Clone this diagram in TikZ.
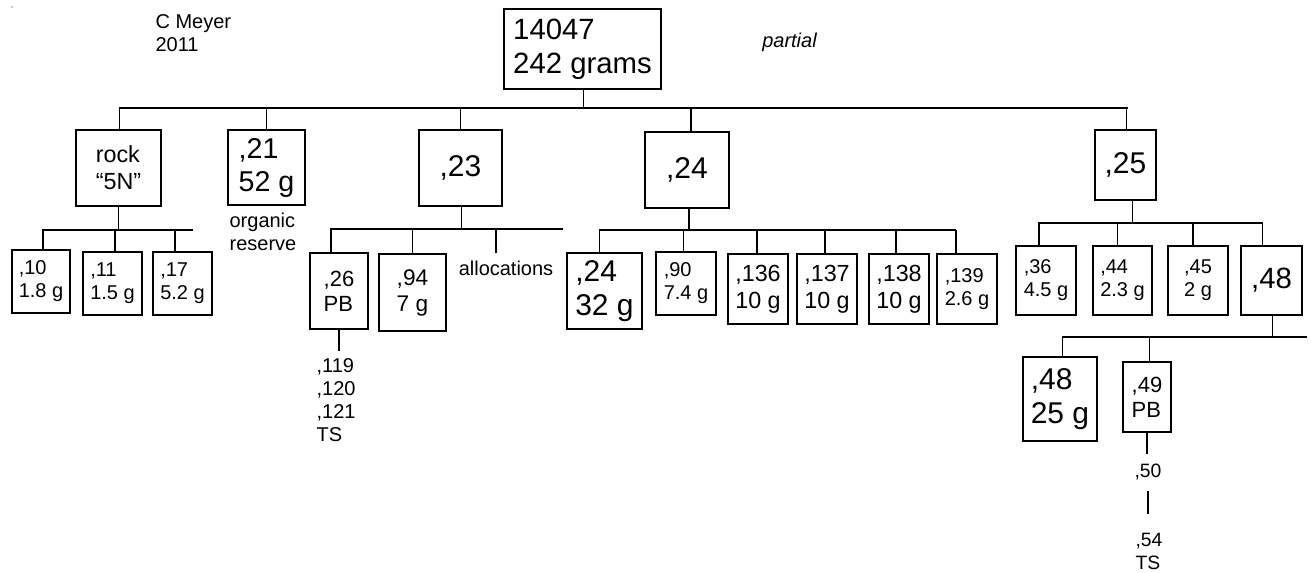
\documentclass[tikz,border=0pt]{standalone}
\usepackage{fontspec}
\setmainfont{Liberation Sans}
\usetikzlibrary{positioning, calc}
\newcommand{\fsz}[1]{\fontsize{#1}{\fpeval{1.15*#1}}\selectfont}

\begin{document}
\begin{tikzpicture}[x=0.75pt, y=-0.75pt, line width=0.9pt,
    box/.style 2 args={draw, align=left, inner sep=0pt,
      minimum width=#1*0.75pt, minimum height=#2*0.75pt},
    lbl/.style={align=left, inner sep=0pt}]
  \useasboundingbox (0,0) rectangle (1311,573);
  \fill (12,7) circle (0.7);

  \node[lbl, anchor=west, font=\fsz{15}] (auth) at (155,33.5) {C Meyer\\2011};
  \node[lbl, font=\fsz{15}\itshape] (part) at (789.5,42) {partial};
  \node[box={157}{80}, font=\fsz{22}] (top) at (582.5,49) {14047\\242 grams};

  % first split
  \node[box={85}{76}, font=\fsz{17.5}] (rock) at (118.5,168) {rock\\“5N”};
  \node[box={77}{75}, font=\fsz{21.5}] (r21) at (266.5,167.5) {,21\\52 g};
  \node[box={83}{76}, font=\fsz{22.5}] (r23) at (460.5,168) {,23};
  \node[box={84}{76}, font=\fsz{22.5}] (r24) at (687,170) {,24};
  \node[box={61}{70}, font=\fsz{22.5}] (r25) at (1125.5,165) {,25};

  % rock and ,21
  \node[box={58}{63}, font=\fsz{15}] (r10) at (41,281.5) {,10\\1.8 g};
  \node[box={59}{63}, font=\fsz{15}] (r11) at (112.5,283.5) {,11\\1.5 g};
  \node[box={59}{63}, font=\fsz{15}] (r17) at (182.5,283.5) {,17\\5.2 g};
  \node[lbl, anchor=west, font=\fsz{15}] (org) at (229,232) {organic\\reserve};

  % ,23
  \node[box={58}{76}, font=\fsz{16.5}] (r26) at (339,291) {,26\\PB};
  \node[box={67}{77}, font=\fsz{17}] (r94) at (412.5,292.5) {,94\\7 g};
  \node[lbl, font=\fsz{15}] (alloc) at (506,268) {allocations};
  \node[lbl, anchor=west, font=\fsz{15}] (ts26) at (316,400) {,119\\,120\\,121\\TS};

  % ,24
  \node[box={75}{76}, font=\fsz{22.5}] (r24b) at (604.5,291) {,24\\32 g};
  \node[box={60}{63}, font=\fsz{15}] (r90) at (686,283.5) {,90\\7.4 g};
  \node[box={60}{70}, font=\fsz{17.5}] (r136) at (758,289) {,136\\10 g};
  \node[box={60}{70}, font=\fsz{17.5}] (r137) at (827,289) {,137\\10 g};
  \node[box={60}{70}, font=\fsz{17.5}] (r138) at (899,289) {,138\\10 g};
  \node[box={60}{70}, font=\fsz{15}] (r139) at (967,289) {,139\\2.6 g};

  % ,25
  \node[box={60}{69}, font=\fsz{15}] (r36) at (1046,280.5) {,36\\4.5 g};
  \node[box={59}{69}, font=\fsz{15}] (r44) at (1122.5,280.5) {,44\\2.3 g};
  \node[box={60}{69}, font=\fsz{15}] (r45) at (1198,280.5) {,45\\2 g};
  \node[box={61}{69}, font=\fsz{22}] (r48) at (1271.5,280.5) {,48};

  % ,48
  \node[box={74}{84}, font=\fsz{22.5}] (r48b) at (1060,399) {,48\\25 g};
  \node[box={48}{70}, font=\fsz{16.5}] (r49) at (1147,397) {,49\\PB};
  \node[lbl, font=\fsz{14.5}] (n50) at (1148,472) {,50};
  \node[lbl, anchor=west, font=\fsz{14.5}] (n54) at (1135,551.5) {,54\\TS};

  % tree lines
  \coordinate (e0) at (1127,108);
  \draw ([xshift=1pt]top.south) |- (e0);
  \foreach \n/\dx in {rock/1, r21/0, r23/0, r24/3, r25/1}
    \draw ([xshift=\dx pt]\n.north) |- (e0);

  \coordinate (e1) at (193,230);
  \draw (rock.south) |- (e1);
  \foreach \n/\dx in {r10/1.5, r11/1.8, r17/-5.6}
    \draw ([xshift=\dx pt]\n.north) |- (e1);

  \coordinate (e2) at (563,229);
  \draw ([xshift=1pt]r23.south) |- (e2);
  \foreach \n/\dx in {r26/-6, r94/0}
    \draw ([xshift=\dx pt]\n.north) |- (e2);
  \draw ([xshift=-7.5pt, yshift=5pt]alloc.north) |- (e2);

  \coordinate (e3) at (956,230);
  \draw ([xshift=1.5pt]r24.south) |- (e3);
  \foreach \n/\dx in {r24b/-4, r90/-2, r136/-0.7, r137/-1.5, r138/-2.2, r139/-8.25}
    \draw ([xshift=\dx pt]\n.north) |- (e3);

  \coordinate (e4) at (1263,223);
  \draw ([xshift=5pt]r25.south) |- (e4);
  \foreach \n/\dx in {r36/-5.25, r44/-4, r45/-3.75, r48/-7}
    \draw ([xshift=\dx pt]\n.north) |- (e4);

  \coordinate (e5) at (1307,337);
  \draw ([xshift=1pt]r48.south) |- (e5);
  \foreach \n/\dx in {r48b/2, r49/2}
    \draw ([xshift=\dx pt]\n.north) |- (e5);

  \draw[shorten >=5pt] (r26.south) -- (r26.south |- ts26.north);
  \draw[shorten >=7pt] (r49.south) -- (r49.south |- n50.north);
  \draw[shorten <=8pt, shorten >=14pt] (n50.south) -- (n50.south |- n54.north);
\end{tikzpicture}
\end{document}
